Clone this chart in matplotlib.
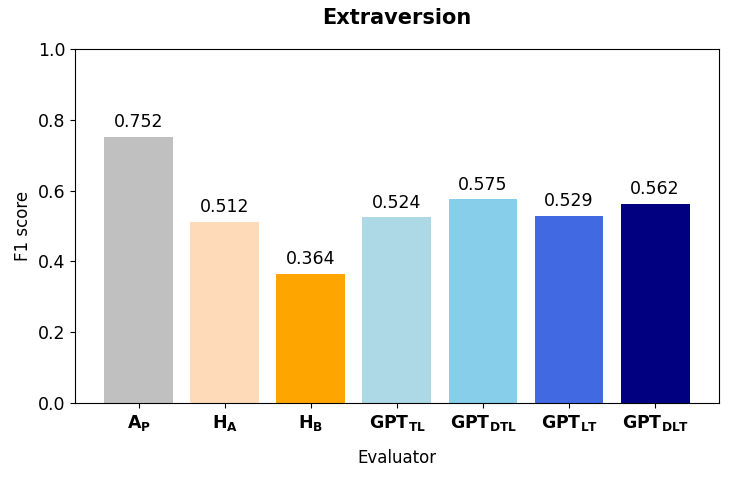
import matplotlib
matplotlib.use("Agg")
import matplotlib.pyplot as plt

evaluators = [r"$\mathbf{A_P}$", r"$\mathbf{H_A}$", r"$\mathbf{H_B}$",
              r"$\mathbf{GPT_{TL}}$", r"$\mathbf{GPT_{DTL}}$",
              r"$\mathbf{GPT_{LT}}$", r"$\mathbf{GPT_{DLT}}$"]
f1_scores = [0.752, 0.512, 0.364, 0.524, 0.575, 0.529, 0.562]
colors = ["silver", "peachpuff", "orange", "lightblue", "skyblue", "royalblue", "navy"]

fig = plt.figure(figsize=(7.32, 4.79), dpi=100)
ax = fig.add_axes([0.1025, 0.1587, 0.8795, 0.739])

x = range(len(evaluators))
bars = ax.bar(x, f1_scores, color=colors, width=0.8)
for b, v in zip(bars, f1_scores):
    ax.text(b.get_x() + b.get_width() / 2, v + 0.016, f"{v:.3f}",
            ha="center", va="bottom", fontsize=12.5)

ax.set_ylim(0, 1.0)
ax.set_xticks(list(x))
ax.set_xticklabels(evaluators, fontsize=12.5)
ax.tick_params(axis="y", labelsize=12.5)
ax.set_xlabel("Evaluator", fontsize=12, labelpad=12)
ax.set_ylabel("F1 score", fontsize=12)
ax.set_title("Extraversion", fontsize=15, fontweight="bold", pad=18)

fig.savefig("out.png", dpi=100)
